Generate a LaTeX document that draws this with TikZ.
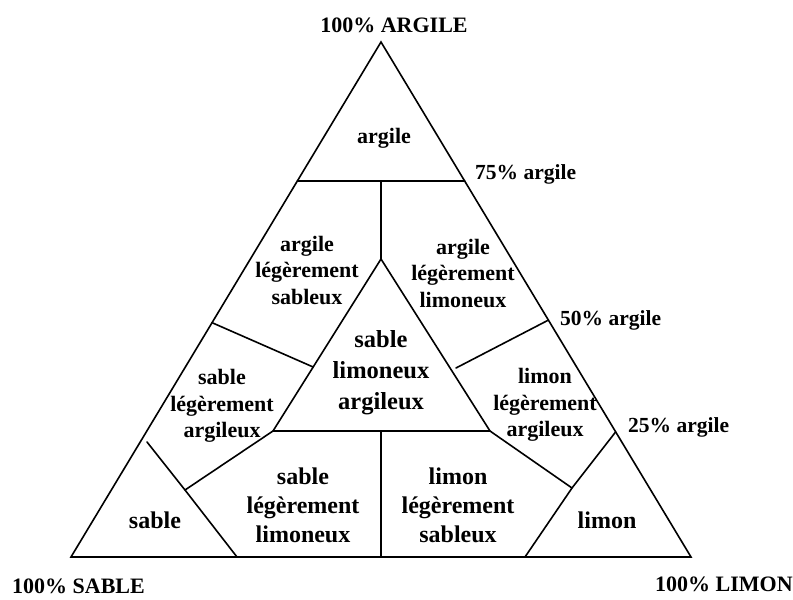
\documentclass[tikz,border=0pt]{standalone}
\usepackage{fontspec}
\setmainfont{Liberation Serif}
\usetikzlibrary{calc}
\begin{document}
\begin{tikzpicture}[x=1pt,y=-1pt,
  edge/.style={line width=1.6pt,line cap=round},
  zone/.style={font=\bfseries\fontsize{22}{26.5}\selectfont,align=center,inner sep=0pt},
  zoneb/.style={font=\bfseries\fontsize{24}{29}\selectfont,align=center,inner sep=0pt},
  zonec/.style={font=\bfseries\fontsize{24.5}{31}\selectfont,align=center,inner sep=0pt},
  corner/.style={font=\bfseries\fontsize{22}{26}\selectfont,inner sep=0pt},
  tick/.style={font=\bfseries\fontsize{21.5}{26}\selectfont,inner sep=0pt,anchor=base west}]
\useasboundingbox (0,0) rectangle (793,600);
% main triangle
\coordinate (A) at (381,42);
\coordinate (L) at (71,557);
\coordinate (R) at (691,557);
% inner triangle
\coordinate (iA) at (381,259);
\coordinate (iL) at (273,431);
\coordinate (iR) at (490,431);
\coordinate (iM) at (381,431);
% ticks and points
\coordinate (t75L) at ($(A)!0.27!(L)$);
\coordinate (t75R) at ($(A)!0.27!(R)$);
\coordinate (m75) at (381,181);
\coordinate (t50R) at ($(A)!0.54!(R)$);
\coordinate (t50L) at ($(A)!0.545!(L)$);
\coordinate (pR) at (456,368);
\coordinate (pL) at ($(iA)!0.628!(iL)$);
\coordinate (s1) at (147,442);
\coordinate (s2) at (185,490);
\coordinate (s3) at (237,557);
\coordinate (t25R) at ($(A)!0.757!(R)$);
\coordinate (j2) at (572,488);
\coordinate (l3) at (525,557);
\coordinate (bM) at (381,557);

\draw[edge,line join=miter] (A) -- (L) -- (R) -- cycle;
\draw[edge] (t75L) -- (t75R);
\draw[edge] (m75) -- (iA);
\draw[edge,line join=miter] (iA) -- (iL) -- (iR) -- cycle;
\draw[edge] (t50L) -- (pL);
\draw[edge] (t50R) -- (pR);
\draw[edge] (s1) -- (s2) -- (s3);
\draw[edge] (iL) -- (s2);
\draw[edge] (t25R) -- (j2) -- (l3);
\draw[edge] (iR) -- (j2);
\draw[edge] (iM) -- (bM);

% corner labels
\node[corner,anchor=base] (cA) at (394,32) {100\% ARGILE};
\node[corner,anchor=base west] (cL) at (12,593) {100\% SABLE};
\node[corner,anchor=base west] (cR) at (655,591) {100\% LIMON};
% tick labels
\node[tick] (l75) at (475,179) {75\% argile};
\node[tick] (l50) at (560,325) {50\% argile};
\node[tick] (l25) at (628,432) {25\% argile};
% zone labels
\node[zone,anchor=base] (zA) at (384,143) {argile};
\node[zone] (zALS) at (307,270) {argile\\légèrement\\sableux};
\node[zone] (zALL) at (463,273) {argile\\légèrement\\limoneux};
\node[zonec] (zSLA) at (381,373) {sable\\limoneux\\argileux};
\node[zone] (zSLeA) at (222,406) {sable\\légèrement\\argileux};
\node[zone] (zLLA) at (545,405) {limon\\légèrement\\argileux};
\node[zoneb] (zS) at (155,520) {sable};
\node[zoneb] (zL) at (607,520) {limon};
\node[zoneb] (zSLL) at (303,505) {sable\\légèrement\\limoneux};
\node[zoneb] (zLLS) at (458,505) {limon\\légèrement\\sableux};
\end{tikzpicture}
\end{document}
